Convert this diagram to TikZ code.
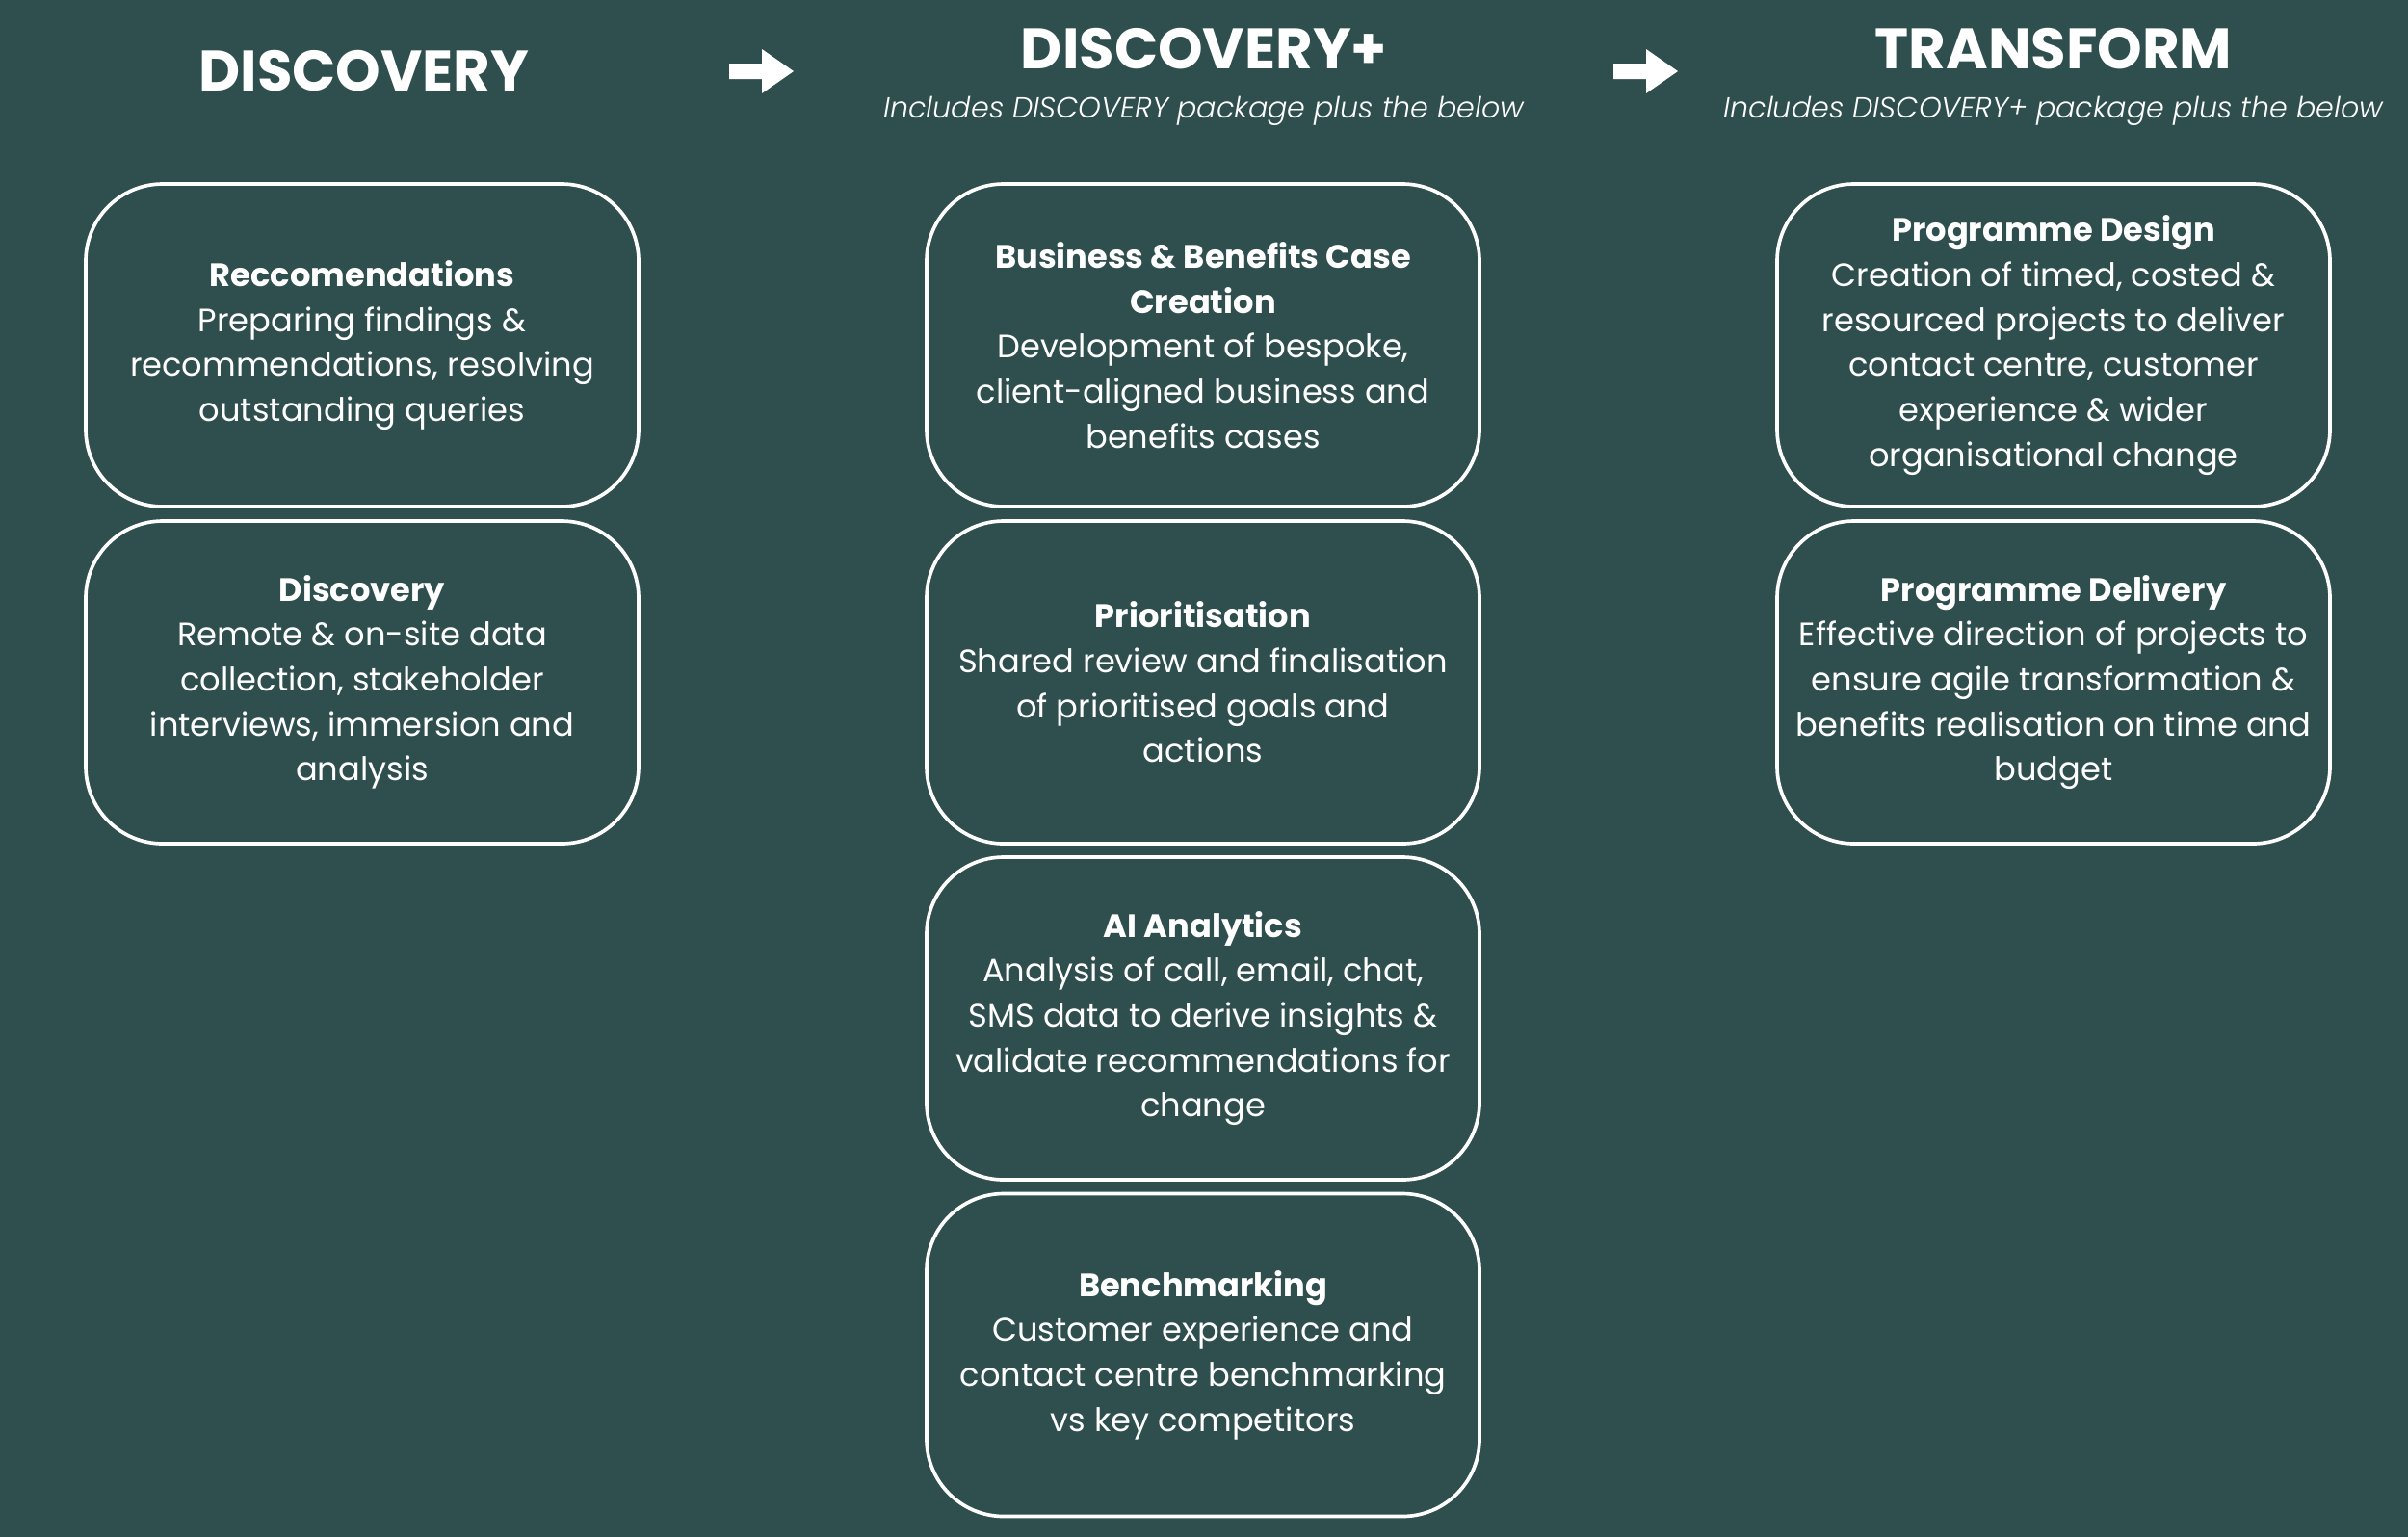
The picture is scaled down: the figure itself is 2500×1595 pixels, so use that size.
\documentclass[tikz,border=0pt]{standalone}
\usepackage{fontspec}
\setmainfont{Poppins}
\newfontfamily\subfont{Poppins Light Italic}
\definecolor{bg}{RGB}{47,79,78}
\begin{document}
\begin{tikzpicture}[x=0.3pt,y=-0.3pt,
  box/.style={draw=white, line width=1.1pt, rounded corners=24pt,
    minimum width=172.2pt, minimum height=100.5pt, align=center,
    text=white, font=\fontsize{10.1}{14}\selectfont, inner sep=0pt},
  head/.style={text=white, font=\fontsize{17.8}{20}\selectfont\bfseries, inner sep=0pt},
  sub/.style={text=white, font=\subfont\fontsize{9.05}{10}\selectfont, inner sep=0pt, anchor=base},
  arr/.style={fill=white, draw=none}]
\useasboundingbox (0,0) rectangle (2500,1595);
\fill[bg] (-10,-10) rectangle (2510,1605);

% headings
\node[head] (h1) at (378,74) {DISCOVERY};
\node[head] (h2) at (1250,51) {DISCOVERY+};
\node[sub] (s2) at (1250,122) {Includes DISCOVERY package plus the below};
\node[head] (h3) at (2132,51) {TRANSFORM};
\node[sub] (s3) at (2132,122) {Includes DISCOVERY+ package plus the below};

% arrows
\fill[arr] (757,66) -- (791,66) -- (791,51) -- (824,74) -- (791,97) -- (791,82) -- (757,82) -- cycle;
\fill[arr] (1675,66) -- (1709,66) -- (1709,51) -- (1742,74) -- (1709,97) -- (1709,82) -- (1675,82) -- cycle;

% left column
\node[box] (l1) at (376,358.5) {\textbf{Reccomendations}\\Preparing findings \&\\recommendations, resolving\\outstanding queries};
\node[box] (l2) at (376,708.5) {\textbf{Discovery}\\Remote \& on-site data\\collection, stakeholder\\interviews, immersion and\\analysis};

% middle column
\node[box] (m1) at (1249,358.5) {\textbf{Business \& Benefits Case}\\\textbf{Creation}\\Development of bespoke,\\client-aligned business and\\benefits cases};
\node[box] (m2) at (1249,708.5) {\textbf{Prioritisation}\\Shared review and finalisation\\of prioritised goals and\\actions};
\node[box] (m3) at (1249,1057.5) {\textbf{AI Analytics}\\Analysis of call, email, chat,\\SMS data to derive insights \&\\validate recommendations for\\change};
\node[box] (m4) at (1249,1407) {\textbf{Benchmarking}\\Customer experience and\\contact centre benchmarking\\vs key competitors};

% right column
\node[box] (r1) at (2132,358.5) {\textbf{Programme Design}\\Creation of timed, costed \&\\resourced projects to deliver\\contact centre, customer\\experience \& wider\\organisational change};
\node[box] (r2) at (2132,708.5) {\textbf{Programme Delivery}\\Effective direction of projects to\\ensure agile transformation \&\\benefits realisation on time and\\budget};
\end{tikzpicture}
\end{document}
